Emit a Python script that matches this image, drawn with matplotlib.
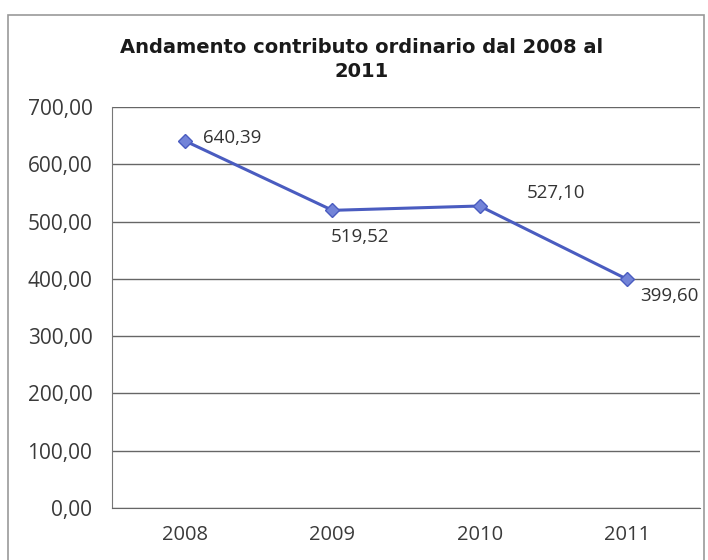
import matplotlib.pyplot as plt
from matplotlib.patches import Rectangle

# dati
anni = ["2008", "2009", "2010", "2011"]
contributo = [640.39, 519.52, 527.10, 399.60]
etichette = ["640,39", "519,52", "527,10", "399,60"]
yticks = [0, 100, 200, 300, 400, 500, 600, 700]

# posizione delle etichette rispetto al punto (in punti tipografici)
offset = [(13, 2), (-1.5, -19), (34, 9), (10, -12)]

fig = plt.figure(figsize=(7.08, 5.6), dpi=100)
ax = fig.add_axes([0.158, 0.093, 0.831, 0.716])

x = range(len(anni))
ax.plot(x, contributo, color="#4a5cc0", linewidth=2.2, marker="D",
        markersize=7, markerfacecolor="#7384d8", markeredgecolor="#4a5cc0")

for i, (v, lab) in enumerate(zip(contributo, etichette)):
    ax.annotate(lab, (i, v), xytext=offset[i], textcoords="offset points",
                fontsize=13.5, color="#333333", family="Open Sans", va="center")

ax.set_xlim(-0.5, len(anni) - 0.5)
ax.set_ylim(0, 700)
ax.set_xticks(list(x))
ax.set_xticklabels(anni, family="Open Sans", fontsize=14.5, color="#3a3a3a")
ax.set_yticks(yticks)
ax.set_yticklabels([f"{t:.2f}".replace(".", ",") for t in yticks],
                   family="Open Sans", fontsize=15, color="#3a3a3a")
ax.tick_params(axis="y", length=0, pad=14)
ax.tick_params(axis="x", length=0, pad=12)
ax.grid(axis="y", color="#666666", linewidth=1)
ax.set_axisbelow(True)
for s in ["top", "right"]:
    ax.spines[s].set_visible(False)
ax.spines["left"].set_color("#777777")
ax.spines["bottom"].set_color("#666666")

fig.text(0.511, 0.894, "Andamento contributo ordinario dal 2008 al\n2011",
         ha="center", va="center", fontsize=14, fontweight="bold",
         family="DejaVu Sans", color="#1a1a1a", linespacing=1.3)

# cornice esterna del grafico
fig.patches.append(Rectangle((0.012, -0.05), 0.982, 1.023, transform=fig.transFigure,
                             fill=False, edgecolor="#999999", linewidth=1.2))

fig.savefig("out.png", dpi=100)
